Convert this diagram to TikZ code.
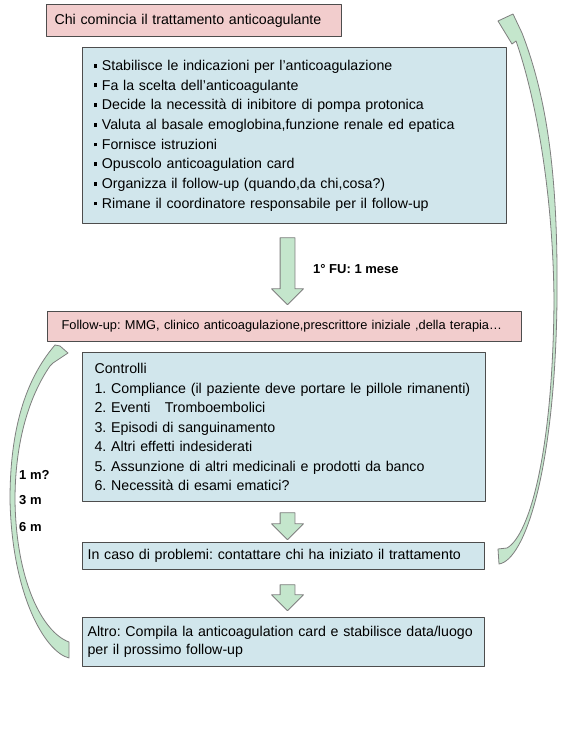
\documentclass[tikz,border=0pt]{standalone}
\usepackage{fontspec}
\setmainfont{Liberation Sans}
\usepackage{tikz}
\usetikzlibrary{shapes.arrows}
\definecolor{pinkfill}{HTML}{F2CDCD}
\definecolor{bluefill}{HTML}{D1E6EC}
\definecolor{greenfill}{HTML}{C4E6CC}
\definecolor{boxline}{HTML}{4D4D4D}
\definecolor{arrowline}{HTML}{7F7F7F}
\newcommand{\bul}{\rule[2.8pt]{3.8pt}{3.8pt}\hspace{4.5pt}}
\frenchspacing

\begin{document}
\begin{tikzpicture}
[x=1pt,y=-1pt,line join=round]
\tikzstyle{box}=[draw=boxline,line width=1.2pt,rectangle,anchor=north west,align=left,inner ysep=0pt,font=\fontsize{14.2}{19.7}\selectfont]
\tikzstyle{pinkbox}=[box,fill=pinkfill]
\tikzstyle{bluebox}=[box,fill=bluefill]
\tikzstyle{fatarrow}=[single arrow,draw=arrowline,fill=greenfill,line width=0.8pt,rotate=-90,inner xsep=0pt,inner ysep=7pt,single arrow head extend=8.5pt]
\tikzstyle{band}=[draw=arrowline,fill=greenfill,line width=0.8pt]
\tikzstyle{lbl}=[anchor=west,inner sep=0pt,font=\bfseries\fontsize{13}{15}\selectfont]

\useasboundingbox (0,0) rectangle (587,749);
\fill[white] (0,0) rectangle (587,749);

% who starts the therapy
\node[pinkbox,inner xsep=8pt,text width=279pt,minimum height=32pt] (who) at (46,4)
  {Chi comincia il trattamento anticoagulante};
\node[bluebox,inner xsep=11pt,text width=402pt,minimum height=176pt] (tasks) at (82,47)
  {\bul Stabilisce le indicazioni per l’anticoagulazione\\
   \bul Fa la scelta dell’anticoagulante\\
   \bul Decide la necessità di inibitore di pompa protonica\\
   \bul Valuta al basale emoglobina,funzione renale ed epatica\\
   \bul Fornisce istruzioni\\
   \bul Opuscolo anticoagulation card\\
   \bul Organizza il follow-up (quando,da chi,cosa?)\\
   \bul Rimane il coordinatore responsabile per il follow-up};

\node[fatarrow,minimum height=67pt] (arr1) at (287.5,267.5) {};
\node[lbl] (first) at (313,269) {1° FU: 1 mese};

% follow-up
\node[pinkbox,inner xsep=14pt,text width=446pt,minimum height=30pt,font=\fontsize{12.8}{15}\selectfont] (fu) at (47,311)
  {Follow-up: MMG, clinico anticoagulazione,prescrittore iniziale ,della terapia…};
\node[bluebox,inner xsep=12pt,text width=379pt,minimum height=149pt,font=\fontsize{14.2}{19.5}\selectfont] (checks) at (82,352)
  {Controlli\\
   1. Compliance (il paziente deve portare le pillole rimanenti)\\
   2. Eventi \ \ Tromboembolici\\
   3. Episodi di sanguinamento\\
   4. Altri effetti indesiderati\\
   5. Assunzione di altri medicinali e prodotti da banco\\
   6. Necessità di esami ematici?};

\node[fatarrow,minimum height=27pt] (arr2) at (287.5,522.5) {};
\node[bluebox,inner xsep=5pt,text width=392pt,minimum height=27pt] (problems) at (82,542)
  {In caso di problemi: contattare chi ha iniziato il trattamento};
\node[fatarrow,minimum height=26pt] (arr3) at (287.5,594) {};
\node[bluebox,inner xsep=5pt,text width=392pt,minimum height=49pt,font=\fontsize{14.2}{18}\selectfont] (other) at (82,617)
  {Altro: Compila la anticoagulation card e stabilisce data/luogo\\
   per il prossimo follow-up};

% return loops
\filldraw[band] (499,564) .. controls (525,560) and (555,470) .. (557,300)
  .. controls (558,190) and (550,105) .. (522,33)
  -- (513,14) -- (498,21) -- (512,44) -- (516,41)
  .. controls (535,95) and (553,190) .. (554,300)
  .. controls (553,450) and (530,535) .. (507,548)
  -- (498,549) -- cycle;
\filldraw[band] (69,658) .. controls (45,652) and (12,595) .. (10,500)
  .. controls (10,430) and (25,380) .. (55,345)
  -- (60,346) -- (68,353) -- (53,363) -- (50,366)
  .. controls (30,395) and (15,440) .. (15,500)
  .. controls (16,580) and (42,632) .. (69,642) -- cycle;

\node[lbl] (m1) at (19,475) {1 m?};
\node[lbl] (m3) at (19,500) {3 m};
\node[lbl] (m6) at (19,527) {6 m};
\end{tikzpicture}
\end{document}
